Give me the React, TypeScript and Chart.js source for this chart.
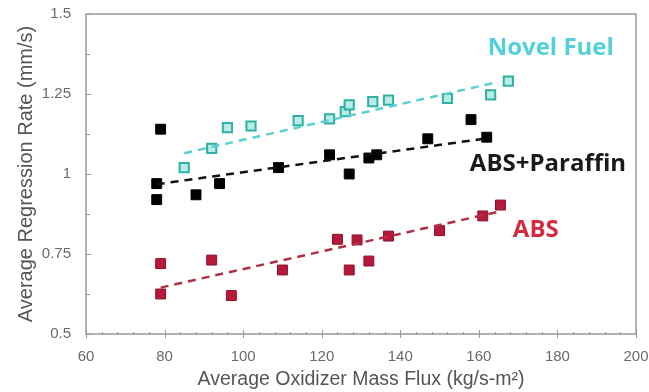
import { useEffect, useRef } from "react";
import { Chart, registerables } from "chart.js";

Chart.register(...registerables);

// ---- data ----
const xTickValues = [60, 80, 100, 120, 140, 160, 180, 200];
const yTickValues = [0.5, 0.75, 1, 1.25, 1.5];
const yTickLabels = ["0.5", "0.75", "1", "1.25", "1.5"];

const novelX = [85, 92, 96, 102, 114, 122, 126, 127, 133, 137, 152, 163, 167.5];
const novelY = [1.02, 1.08, 1.145, 1.15, 1.167, 1.172, 1.195, 1.216, 1.226, 1.231, 1.236, 1.247, 1.29];

const paraffinX = [78, 78, 79, 88, 94, 109, 122, 127, 132, 134, 147, 158, 162];
const paraffinY = [0.97, 0.92, 1.14, 0.935, 0.97, 1.02, 1.06, 1.0, 1.05, 1.06, 1.11, 1.17, 1.115];

const absX = [79, 79, 92, 97, 110, 124, 127, 129, 132, 137, 150, 161, 165.5];
const absY = [0.72, 0.625, 0.731, 0.62, 0.7, 0.796, 0.7, 0.794, 0.728, 0.806, 0.823, 0.869, 0.903];

const novelTrendX = [85, 164];
const novelTrendY = [1.065, 1.285];
const paraffinTrendX = [78, 163];
const paraffinTrendY = [0.968, 1.113];
const absTrendX = [79, 165];
const absTrendY = [0.645, 0.882];

const labelTexts = ["Novel Fuel", "ABS+Paraffin", "ABS"];
const labelX = [178.3, 177.6, 174.5];
const labelY = [1.394, 1.031, 0.825];
const labelColors = ["#52d2d8", "#1a1a1a", "#d62a40"];
const labelSizes = [24, 24, 24];

const xTitle = "Average Oxidizer Mass Flux (kg/s-m²)";
const yTitle = "Average Regression Rate (mm/s)";

const pts = (xs: number[], ys: number[]) => xs.map((x, i) => ({ x, y: ys[i] }));

const AXIS_COLOR = "#9a9a9a";

const framePlugin = {
  id: "frame",
  beforeDatasetsDraw(chart: any) {
    const { ctx, chartArea, scales } = chart;
    const { left, right, top, bottom } = chartArea;
    const xs = scales.x;
    const ys = scales.y;
    ctx.save();
    ctx.strokeStyle = AXIS_COLOR;
    ctx.lineWidth = 1.5;
    ctx.strokeRect(left, top, right - left, bottom - top);
    ctx.lineWidth = 1;
    ctx.beginPath();
    for (let v = 60; v <= 200; v += 4) {
      const px = Math.round(xs.getPixelForValue(v)) + 0.5;
      const major = xTickValues.includes(v);
      ctx.moveTo(px, bottom - (major ? 4 : 2));
      ctx.lineTo(px, bottom + (major ? 4 : 1));
    }
    for (let i = 0; i < yTickValues.length; i++) {
      const py = Math.round(ys.getPixelForValue(yTickValues[i])) + 0.5;
      ctx.moveTo(left, py);
      ctx.lineTo(left + 5, py);
      if (i < yTickValues.length - 1) {
        const mid = (yTickValues[i] + yTickValues[i + 1]) / 2;
        const pm = Math.round(ys.getPixelForValue(mid)) + 0.5;
        ctx.moveTo(left, pm);
        ctx.lineTo(left + 4, pm);
      }
    }
    ctx.stroke();
    ctx.restore();
  },
  afterDatasetsDraw(chart: any) {
    const { ctx, scales } = chart;
    ctx.save();
    ctx.textAlign = "center";
    ctx.textBaseline = "middle";
    labelTexts.forEach((t, i) => {
      ctx.font = `bold ${labelSizes[i]}px "Open Sans", sans-serif`;
      ctx.fillStyle = labelColors[i];
      ctx.fillText(t, scales.x.getPixelForValue(labelX[i]), scales.y.getPixelForValue(labelY[i]));
    });
    ctx.restore();
  },
};

export default function App() {
  const ref = useRef<HTMLCanvasElement | null>(null);
  useEffect(() => {
    document.body.style.margin = "0";
    const canvas = ref.current;
    if (!canvas) return;
    const chart = new Chart(canvas, {
      type: "scatter",
      data: {
        datasets: [
          {
            type: "line",
            data: pts(absTrendX, absTrendY),
            borderColor: "#b03048",
            borderWidth: 2.5,
            borderDash: [8, 6],
            pointRadius: 0,
            showLine: true,
            fill: false,
          },
          {
            type: "line",
            data: pts(paraffinTrendX, paraffinTrendY),
            borderColor: "#111111",
            borderWidth: 2.5,
            borderDash: [8, 6],
            pointRadius: 0,
            showLine: true,
            fill: false,
          },
          {
            type: "line",
            data: pts(novelTrendX, novelTrendY),
            borderColor: "#5ccfcf",
            borderWidth: 2.5,
            borderDash: [8, 6],
            pointRadius: 0,
            showLine: true,
            fill: false,
          },
          {
            data: pts(absX, absY),
            pointStyle: "rect",
            pointRadius: 7,
            backgroundColor: "#b8183a",
            borderColor: "#8a1028",
            borderWidth: 1,
          },
          {
            data: pts(paraffinX, paraffinY),
            pointStyle: "rect",
            pointRadius: 7,
            backgroundColor: "#000000",
            borderColor: "#000000",
            borderWidth: 1,
          },
          {
            data: pts(novelX, novelY),
            pointStyle: "rect",
            pointRadius: 6.5,
            backgroundColor: "#b8ece6",
            borderColor: "#2fb0a2",
            borderWidth: 2,
          },
        ],
      } as any,
      options: {
        animation: false,
        responsive: false,
        layout: { padding: { left: 0, right: 13, top: 14, bottom: 0 } },
        plugins: { legend: { display: false }, tooltip: { enabled: false } },
        scales: {
          x: {
            type: "linear",
            min: 60,
            max: 200,
            grid: { display: false, drawTicks: false },
            border: { display: false },
            afterBuildTicks: (s: any) => {
              s.ticks = xTickValues.map((v) => ({ value: v }));
            },
            afterFit: (s: any) => {
              s.height = 58;
              s.paddingLeft = 0;
              s.paddingRight = 0;
            },
            ticks: {
              padding: 14,
              color: "#6a6a6a",
              font: { family: "'Liberation Sans', Arial, sans-serif", size: 15 },
              callback: (v: any) => String(v),
            },
            title: {
              display: true,
              text: xTitle,
              color: "#555555",
              font: { family: "'Liberation Sans', Arial, sans-serif", size: 19.5 },
              padding: { top: 0, bottom: 1 },
            },
          },
          y: {
            type: "linear",
            min: 0.5,
            max: 1.5,
            grid: { display: false, drawTicks: false },
            border: { display: false },
            afterBuildTicks: (s: any) => {
              s.ticks = yTickValues.map((v) => ({ value: v }));
            },
            afterFit: (s: any) => {
              s.width = 86;
              s.paddingTop = 0;
              s.paddingBottom = 0;
            },
            ticks: {
              padding: 15,
              color: "#6a6a6a",
              font: { family: "'Liberation Sans', Arial, sans-serif", size: 15 },
              callback: (_v: any, i: number) => yTickLabels[i],
            },
            title: {
              display: true,
              text: yTitle,
              color: "#555555",
              font: { family: "'Liberation Sans', Arial, sans-serif", size: 20 },
              padding: { top: 14, bottom: 0 },
            },
          },
        },
      },
      plugins: [framePlugin],
    });
    return () => chart.destroy();
  }, []);
  return (
    <div style={{ width: 649, height: 392 }}>
      <canvas ref={ref} width={649} height={392} style={{ display: "block" }} />
    </div>
  );
}
